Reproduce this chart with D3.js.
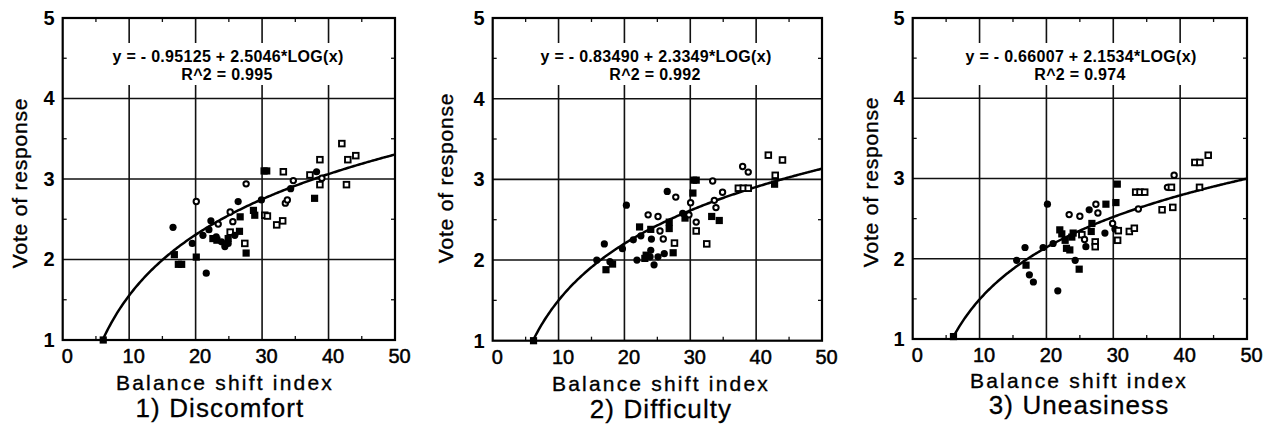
<!DOCTYPE html>
<html><head><meta charset="utf-8">
<script src="https://cdn.jsdelivr.net/npm/d3@7"></script>
<style>body{margin:0;background:#fff} svg{display:block}</style>
</head><body><svg id="c" width="1266" height="428"></svg>
<script>
// ---------- data ----------
const panelTitles = ["1) Discomfort", "2) Difficulty", "3) Uneasiness"];
const fitIntercept = [-0.95125, -0.83490, -0.66007];
const fitSlope = [2.5046, 2.3349, 2.1534];
const fitEquations = ["y =  - 0.95125 + 2.5046*LOG(x)", "y =  - 0.83490 + 2.3349*LOG(x)", "y =  - 0.66007 + 2.1534*LOG(x)"];
const fitR2 = ["R^2 = 0.995", "R^2 = 0.992", "R^2 = 0.974"];
const xTicks = [0, 10, 20, 30, 40, 50];
const yTicks = [1, 2, 3, 4, 5];
const xMinor = [5, 15, 25, 35, 45];
const yMinor = [1.5, 2.5, 3.5, 4.5];
const xLabel = "Balance shift index";
const yLabel = "Vote of response";
// marker codes: fc filled circle, oc open circle, fs filled square, os open square
const discomfortPoints = [
 [6.1,1.0,"fs"],[16.6,2.40,"fc"],[16.8,2.06,"fs"],[17.4,1.94,"fs"],[17.9,1.94,"fs"],[19.5,2.20,"fc"],
 [20.1,2.03,"fs"],[20.1,2.72,"oc"],[21.6,1.83,"fc"],[21.1,2.30,"fc"],[22.0,2.37,"fc"],[22.3,2.48,"fc"],
 [22.6,2.26,"fs"],[23.1,2.28,"fc"],[23.2,2.24,"fs"],[23.4,2.44,"oc"],[23.9,2.22,"fc"],[24.4,2.16,"fc"],
 [24.9,2.26,"fs"],[24.9,2.20,"fc"],[25.2,2.34,"os"],[25.2,2.59,"oc"],[25.6,2.47,"oc"],[25.9,2.30,"fc"],
 [26.4,2.72,"fc"],[26.6,2.35,"fs"],[26.7,2.53,"fs"],[27.4,2.20,"os"],[27.6,2.08,"fs"],[27.6,2.94,"oc"],
 [28.7,2.61,"fs"],[28.9,2.55,"fs"],[29.9,2.74,"fc"],[30.4,2.55,"os"],[30.8,2.54,"os"],[30.3,3.10,"fs"],
 [30.7,3.10,"fs"],[32.2,2.43,"os"],[33.1,2.48,"os"],[33.2,3.09,"os"],[33.5,2.70,"oc"],[33.8,2.74,"oc"],
 [34.3,2.88,"fc"],[34.7,2.98,"oc"],[37.2,3.05,"os"],[37.9,2.76,"fs"],[38.2,3.09,"fc"],[38.7,2.93,"os"],
 [38.7,3.24,"os"],[42.0,3.44,"os"],[42.7,2.93,"os"],[42.9,3.24,"os"],[44.1,3.29,"os"],[39.0,3.01,"oc"]
];
const difficultyPoints = [
 [6.2,1.0,"fs"],[15.8,2.00,"fc"],[16.95,2.20,"fc"],[17.2,1.88,"fs"],[17.8,1.98,"fc"],[18.2,1.95,"fs"],
 [19.7,2.14,"fc"],[20.3,2.68,"fc"],[21.35,2.25,"fc"],[22.5,2.30,"fc"],[22.3,2.41,"fs"],[23.6,2.56,"oc"],
 [24.0,2.38,"fs"],[24.1,2.26,"fc"],[25.1,2.54,"oc"],[25.4,2.36,"oc"],[25.9,2.26,"oc"],[26.8,2.47,"fs"],
 [26.8,2.39,"fs"],[26.5,2.85,"fc"],[27.8,2.78,"oc"],[27.6,2.21,"os"],[27.4,2.09,"fs"],[21.9,2.00,"fc"],
 [23.1,2.02,"fs"],[23.3,2.06,"fs"],[24.0,2.12,"fc"],[24.5,1.94,"fc"],[25.1,2.04,"fc"],[26.05,2.08,"fc"],
 [23.9,2.04,"fc"],[28.85,2.58,"fc"],[29.2,2.52,"fs"],[29.8,2.56,"oc"],[30.05,2.71,"oc"],[30.5,2.99,"fs"],
 [30.9,2.99,"fs"],[30.4,2.83,"fs"],[30.9,2.47,"oc"],[30.9,2.36,"os"],[32.5,2.20,"os"],[33.4,2.98,"oc"],
 [33.25,2.54,"fs"],[34.4,2.49,"fs"],[33.65,2.74,"oc"],[33.9,2.65,"oc"],[34.9,2.84,"oc"],[37.3,2.89,"os"],
 [38.05,2.89,"os"],[38.8,2.89,"os"],[37.95,3.16,"oc"],[38.8,3.09,"oc"],[42.9,3.05,"os"],[42.8,2.94,"fs"],
 [41.85,3.30,"os"],[44.0,3.24,"os"]
];
const uneasinessPoints = [
 [6.1,1.03,"fs"],[15.55,1.98,"fc"],[16.8,2.14,"fc"],[16.95,1.92,"fs"],[17.45,1.80,"fc"],[18.05,1.71,"fc"],
 [19.5,2.14,"fc"],[20.15,2.68,"fc"],[21.0,2.19,"fc"],[21.7,1.60,"fc"],[22.0,2.36,"fs"],[22.3,2.31,"fs"],
 [22.8,2.23,"fs"],[23.0,2.13,"fs"],[23.5,2.11,"fs"],[23.8,2.27,"fs"],[24.0,2.32,"fs"],[23.4,2.55,"oc"],
 [24.3,1.98,"fc"],[24.9,1.87,"fs"],[25.0,2.53,"oc"],[25.3,2.30,"os"],[25.7,2.24,"oc"],[25.9,2.15,"fc"],
 [26.4,2.61,"fc"],[26.7,2.34,"fs"],[26.8,2.44,"fs"],[27.4,2.68,"oc"],[27.7,2.57,"oc"],[27.3,2.21,"os"],
 [27.3,2.15,"os"],[28.75,2.32,"fc"],[28.9,2.68,"fs"],[29.9,2.44,"oc"],[30.4,2.70,"fs"],[30.6,2.93,"fs"],
 [30.25,2.37,"fc"],[30.75,2.35,"os"],[30.65,2.23,"os"],[32.4,2.34,"os"],[33.15,2.38,"os"],[33.35,2.83,"os"],
 [34.0,2.83,"os"],[34.7,2.83,"os"],[33.75,2.62,"oc"],[37.3,2.61,"os"],[38.9,2.64,"os"],[38.1,2.89,"oc"],
 [38.7,2.89,"os"],[39.1,3.04,"oc"],[42.9,2.89,"os"],[42.2,3.20,"os"],[42.95,3.20,"os"],[44.2,3.29,"os"]
];
const panelPoints = [discomfortPoints, difficultyPoints, uneasinessPoints];

// ---------- layout ----------
const FONT = "'Liberation Sans', Arial, Helvetica, sans-serif";
const frames = [
 {left:62.7, right:395, top:18, bottom:340, yLabX:20, yLabY:183, xLabX:225, xLabY:390, tX:220, tY:417, eqX:228},
 {left:492.7, right:822, top:18, bottom:340.7, yLabX:446, yLabY:178, xLabX:661, xLabY:391, tX:661, tY:418, eqX:656},
 {left:912.7, right:1247, top:18, bottom:339, yLabX:871, yLabY:182, xLabX:1079, xLabY:388, tX:1079, tY:414, eqX:1081}
];

const svg = d3.select("#c");

panelPoints.forEach((pts, i) => {
  const f = frames[i];
  const x = d3.scaleLinear().domain([0, 50]).range([f.left, f.right]);
  const y = d3.scaleLinear().domain([1, 5]).range([f.bottom, f.top]);
  const g = svg.append("g");

  // grid lines
  g.selectAll(".vg").data(xTicks.slice(1, -1)).join("line")
    .attr("x1", d => x(d)).attr("x2", d => x(d)).attr("y1", f.top).attr("y2", f.bottom)
    .attr("stroke", "#111").attr("stroke-width", 1.6);
  g.selectAll(".hg").data(yTicks.slice(1, -1)).join("line")
    .attr("x1", f.left).attr("x2", f.right).attr("y1", d => y(d)).attr("y2", d => y(d))
    .attr("stroke", "#111").attr("stroke-width", 1.6);

  // white box behind equation
  g.append("rect").attr("x", f.eqX - 130).attr("y", 43).attr("width", 260).attr("height", 42).attr("fill", "#fff");

  // minor ticks (inward)
  [[f.top, 4], [f.bottom, -4]].forEach(([yy, dy]) => {
    g.selectAll(null).data(xMinor).join("line")
      .attr("x1", d => x(d)).attr("x2", d => x(d)).attr("y1", yy).attr("y2", yy + dy)
      .attr("stroke", "#111").attr("stroke-width", 1.3);
  });
  [[f.left, 4], [f.right, -4]].forEach(([xx, dx]) => {
    g.selectAll(null).data(yMinor).join("line")
      .attr("y1", d => y(d)).attr("y2", d => y(d)).attr("x1", xx).attr("x2", xx + dx)
      .attr("stroke", "#111").attr("stroke-width", 1.3);
  });

  // border
  g.append("rect").attr("x", f.left).attr("y", f.top).attr("width", f.right - f.left).attr("height", f.bottom - f.top)
    .attr("fill", "none").attr("stroke", "#000").attr("stroke-width", 2.2);

  // fitted curve
  const a = fitIntercept[i], b = fitSlope[i];
  const x0 = Math.pow(10, (1 - a) / b);
  const xs = d3.range(0, 201).map(k => x0 + (50 - x0) * k / 200);
  const line = d3.line().x(d => x(d)).y(d => y(a + b * Math.log10(d)));
  g.append("path").datum(xs).attr("d", line).attr("fill", "none").attr("stroke", "#000").attr("stroke-width", 2.5);

  // points
  const mg = g.append("g");
  pts.forEach(p => {
    const px = x(p[0]), py = y(p[1]), t = p[2];
    if (t === "fc") mg.append("circle").attr("cx", px).attr("cy", py).attr("r", 3.6).attr("fill", "#000");
    else if (t === "oc") mg.append("circle").attr("cx", px).attr("cy", py).attr("r", 2.7).attr("fill", "#fff").attr("stroke", "#000").attr("stroke-width", 2);
    else if (t === "fs") mg.append("rect").attr("x", px - 3.6).attr("y", py - 3.6).attr("width", 7.2).attr("height", 7.2).attr("fill", "#000");
    else mg.append("rect").attr("x", px - 2.8).attr("y", py - 2.8).attr("width", 5.6).attr("height", 5.6).attr("fill", "#fff").attr("stroke", "#000").attr("stroke-width", 1.9);
  });

  // tick labels
  const ya = d3.axisLeft(y).tickValues(yTicks).tickSize(0).tickPadding(8).tickFormat(d3.format("d"));
  const yg = g.append("g").attr("transform", `translate(${f.left},0)`).call(ya);
  yg.select(".domain").remove();
  yg.selectAll("text").attr("font-family", FONT).attr("font-size", 20).attr("font-weight", "bold").attr("fill", "#000");
  const xa = d3.axisBottom(x).tickValues(xTicks).tickSize(0).tickPadding(9).tickFormat(d3.format("d"));
  const xg = g.append("g").attr("transform", `translate(4,${f.bottom})`).call(xa);
  xg.select(".domain").remove();
  xg.selectAll("text").attr("font-family", FONT).attr("font-size", 20).attr("fill", "#000")
    .attr("stroke", "#000").attr("stroke-width", 0.5);

  // axis titles
  g.append("text").attr("transform", `translate(${f.yLabX + 7},${f.yLabY}) rotate(-90)`)
    .attr("text-anchor", "middle").attr("font-family", FONT).attr("font-size", 21).attr("letter-spacing", 0.8)
    .attr("fill", "#000").attr("stroke", "#000").attr("stroke-width", 0.35).text(yLabel);
  g.append("text").attr("x", f.xLabX).attr("y", f.xLabY).attr("text-anchor", "middle")
    .attr("font-family", FONT).attr("font-size", 21).attr("letter-spacing", 2.2)
    .attr("fill", "#000").attr("stroke", "#000").attr("stroke-width", 0.35).text(xLabel);
  g.append("text").attr("x", f.tX).attr("y", f.tY).attr("text-anchor", "middle")
    .attr("font-family", FONT).attr("font-size", 26).attr("letter-spacing", 1.1)
    .attr("fill", "#000").attr("stroke", "#000").attr("stroke-width", 0.3).text(panelTitles[i]);

  // equation
  g.append("text").attr("x", f.eqX).attr("y", 62).attr("text-anchor", "middle")
    .attr("font-family", FONT).attr("font-size", 16).attr("font-weight", "bold").attr("letter-spacing", 0.3)
    .attr("fill", "#000").text(fitEquations[i]);
  g.append("text").attr("x", f.eqX - 1).attr("y", 80).attr("text-anchor", "middle")
    .attr("font-family", FONT).attr("font-size", 16).attr("font-weight", "bold").attr("letter-spacing", 0.3)
    .attr("fill", "#000").text(fitR2[i]);
});
</script></body></html>
